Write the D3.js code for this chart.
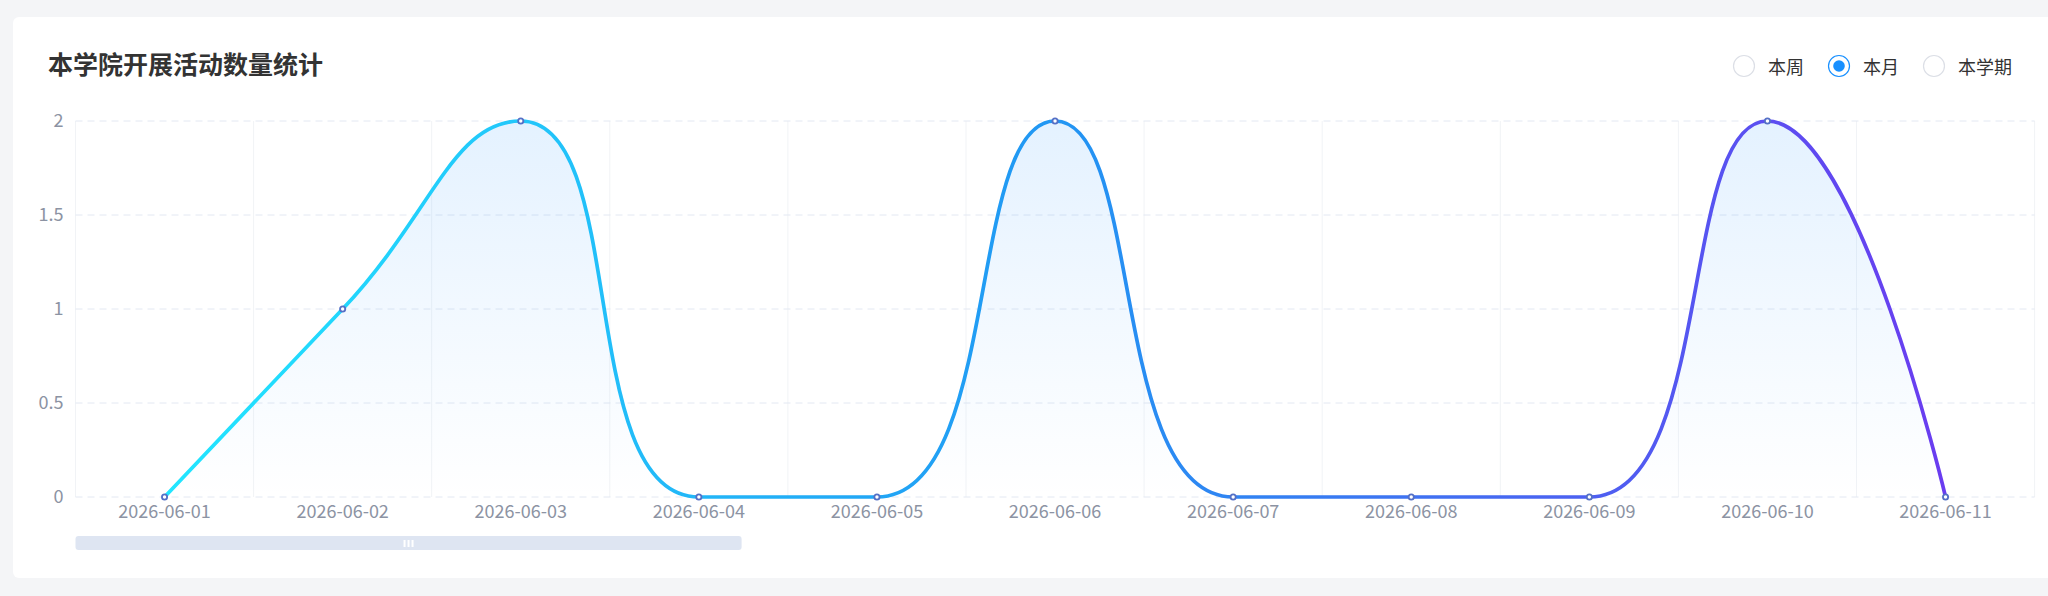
<!DOCTYPE html>
<html>
<head>
<meta charset="utf-8">
<script src="https://cdn.jsdelivr.net/npm/d3@7/dist/d3.min.js"></script>
<style>
  html, body { margin: 0; padding: 0; background: #f4f5f7; }
  body { width: 2048px; height: 596px; overflow: hidden; font-family: "Noto Sans CJK SC", "Noto Sans", sans-serif; }
  .chart-title { font-size: 25px; font-weight: 700; fill: #333; }
  .radio-label { font-size: 18px; fill: #333; }
  .tick text { font-size: 18px; fill: #8c93a3; font-family: "Noto Sans CJK SC", "Noto Sans", sans-serif; }
</style>
</head>
<body>
<div id="chart"></div>
<script>
// --- activity count per day, line with gradient stroke + soft area ---

const titleText = '本学院开展活动数量统计';
const periodOptions = ['本周', '本月', '本学期'];
const selectedPeriod = '本月';
const dates = ['2026-06-01', '2026-06-02', '2026-06-03', '2026-06-04', '2026-06-05', '2026-06-06',
               '2026-06-07', '2026-06-08', '2026-06-09', '2026-06-10', '2026-06-11'];
const counts = [0, 1, 2, 0, 0, 2, 0, 0, 0, 2, 0];
const yTicks = [0, 0.5, 1, 1.5, 2];
const sliderWindow = [0, 34]; // dataZoom start/end in percent

const W = 2048, H = 596;
const plot = { left: 75.5, right: 2034.6, top: 121, bottom: 497 };

// bezier smoothing the way echarts does it (smooth: true -> 0.5, clamped control points)
function curveSmoothClamped(context) {
  const smooth = 0.5;
  let pts, area = NaN;
  const clamp = (v, a, b) => Math.max(Math.min(v, Math.max(a, b)), Math.min(a, b));
  return {
    areaStart() { area = 0; },
    areaEnd() { area = NaN; },
    lineStart() { pts = []; },
    point(x, y) { pts.push([+x, +y]); },
    lineEnd() {
      const n = pts.length;
      let cpx0, cpy0, prevX, prevY;
      for (let k = 0; k < n; k++) {
        const [x, y] = pts[k];
        if (k === 0) {
          if (area === 1) context.lineTo(x, y); else context.moveTo(x, y);
          cpx0 = x; cpy0 = y;
        } else {
          let cpx1 = x, cpy1 = y, ncx = x, ncy = y;
          if (k < n - 1) {
            const [nx, ny] = pts[k + 1];
            let vx = nx - prevX, vy = ny - prevY;
            const lenPrev = Math.hypot(x - prevX, y - prevY);
            const lenNext = Math.hypot(nx - x, ny - y);
            const ratio = lenNext / (lenNext + lenPrev);
            ncx = clamp(x + vx * smooth * ratio, x, nx);
            ncy = clamp(y + vy * smooth * ratio, y, ny);
            vx = ncx - x; vy = ncy - y;
            cpx1 = clamp(x - vx * lenPrev / lenNext, prevX, x);
            cpy1 = clamp(y - vy * lenPrev / lenNext, prevY, y);
            vx = x - cpx1; vy = y - cpy1;
            ncx = x + vx * lenNext / lenPrev;
            ncy = y + vy * lenNext / lenPrev;
          }
          context.bezierCurveTo(cpx0, cpy0, cpx1, cpy1, x, y);
          cpx0 = ncx; cpy0 = ncy;
        }
        prevX = x; prevY = y;
      }
      if (area === 1) context.closePath();
      if (area === 0 || area === 1) area = 1 - area;
    }
  };
}

const svg = d3.select('#chart').append('svg')
  .attr('width', W)
  .attr('height', H);

const defs = svg.append('defs');

const lineGrad = defs.append('linearGradient')
  .attr('id', 'lineGrad')
  .attr('x1', 0).attr('y1', 0).attr('x2', 1).attr('y2', 0);
lineGrad.append('stop').attr('offset', '0%').attr('stop-color', '#22e6ff');
lineGrad.append('stop').attr('offset', '50%').attr('stop-color', '#2196f3');
lineGrad.append('stop').attr('offset', '100%').attr('stop-color', '#6a3cf0');

const areaGrad = defs.append('linearGradient')
  .attr('id', 'areaGrad')
  .attr('x1', 0).attr('y1', 0).attr('x2', 0).attr('y2', 1);
areaGrad.append('stop').attr('offset', '0%').attr('stop-color', 'rgb(30,144,255)').attr('stop-opacity', 0.12);
areaGrad.append('stop').attr('offset', '100%').attr('stop-color', 'rgb(30,144,255)').attr('stop-opacity', 0);

// card
svg.append('rect')
  .attr('x', 13).attr('y', 17)
  .attr('width', W).attr('height', 561)
  .attr('rx', 6)
  .attr('fill', '#fff');

svg.append('text')
  .attr('class', 'chart-title')
  .attr('x', 48).attr('y', 63)
  .attr('dominant-baseline', 'central')
  .text(titleText);

// radio group, laid out left to right
let rx = 1733;
periodOptions.forEach(opt => {
  const g = svg.append('g');
  const on = opt === selectedPeriod;
  g.append('circle')
    .attr('cx', rx + 11).attr('cy', 66).attr('r', 10.5)
    .attr('fill', '#fff')
    .attr('stroke', on ? '#1890ff' : '#dcdfe6')
    .attr('stroke-width', 1.2);
  if (on) {
    g.append('circle')
      .attr('cx', rx + 11).attr('cy', 66).attr('r', 5.8)
      .attr('fill', '#1890ff');
  }
  const t = g.append('text')
    .attr('class', 'radio-label')
    .attr('x', rx + 35).attr('y', 66)
    .attr('dominant-baseline', 'central')
    .text(opt);
  rx += 35 + t.node().getComputedTextLength() + 24;
});

const xScale = d3.scaleBand().domain(dates).range([plot.left, plot.right]).padding(0);
const yScale = d3.scaleLinear().domain([0, 2]).range([plot.bottom, plot.top]);
const cx = d => xScale(d) + xScale.bandwidth() / 2;

// grid
const grid = svg.append('g');
grid.selectAll('.vgrid')
  .data(dates.map(d => xScale(d)).concat([plot.right]))
  .enter().append('line')
  .attr('x1', d => d).attr('x2', d => d)
  .attr('y1', plot.top).attr('y2', plot.bottom)
  .attr('stroke', '#f1f3f6').attr('stroke-width', 1);

grid.selectAll('.hgrid')
  .data(yTicks)
  .enter().append('line')
  .attr('x1', plot.left).attr('x2', plot.right)
  .attr('y1', d => yScale(d)).attr('y2', d => yScale(d))
  .attr('stroke', '#e3e8f2').attr('stroke-width', 1)
  .attr('stroke-dasharray', '7,5');

// axes
svg.append('g')
  .attr('transform', `translate(${plot.left},0)`)
  .call(d3.axisLeft(yScale).tickValues(yTicks).tickFormat(d => String(d)).tickSize(0).tickPadding(12))
  .call(g => g.select('.domain').remove());

svg.append('g')
  .attr('transform', `translate(0,${plot.bottom})`)
  .call(d3.axisBottom(xScale).tickSize(0).tickPadding(8))
  .call(g => g.select('.domain').remove());

const series = dates.map((d, i) => ({ date: d, value: counts[i] }));

const areaGen = d3.area()
  .x(d => cx(d.date))
  .y0(yScale(0))
  .y1(d => yScale(d.value))
  .curve(curveSmoothClamped);

svg.append('path')
  .datum(series)
  .attr('d', areaGen)
  .attr('fill', 'url(#areaGrad)');

const lineGen = d3.line()
  .x(d => cx(d.date))
  .y(d => yScale(d.value))
  .curve(curveSmoothClamped);

svg.append('path')
  .datum(series)
  .attr('d', lineGen)
  .attr('fill', 'none')
  .attr('stroke', 'url(#lineGrad)')
  .attr('stroke-width', 3.7)
  .attr('stroke-linecap', 'round');

svg.selectAll('.pt')
  .data(series)
  .enter().append('circle')
  .attr('cx', d => cx(d.date))
  .attr('cy', d => yScale(d.value))
  .attr('r', 2.6)
  .attr('fill', '#fff')
  .attr('stroke', '#5470c6')
  .attr('stroke-width', 1.8);

// dataZoom slider bar
const sliderScale = d3.scaleLinear().domain([0, 100]).range([plot.left, plot.right]);
const s0 = sliderScale(sliderWindow[0]), s1 = sliderScale(sliderWindow[1]);
svg.append('rect')
  .attr('x', s0).attr('y', 536)
  .attr('width', s1 - s0).attr('height', 14)
  .attr('rx', 3)
  .attr('fill', '#dee5f2');

const mid = (s0 + s1) / 2;
svg.selectAll('.grip')
  .data([-4, 0, 4])
  .enter().append('rect')
  .attr('x', d => mid + d - 1).attr('y', 540)
  .attr('width', 2).attr('height', 7)
  .attr('fill', '#fff');
</script>
</body>
</html>
